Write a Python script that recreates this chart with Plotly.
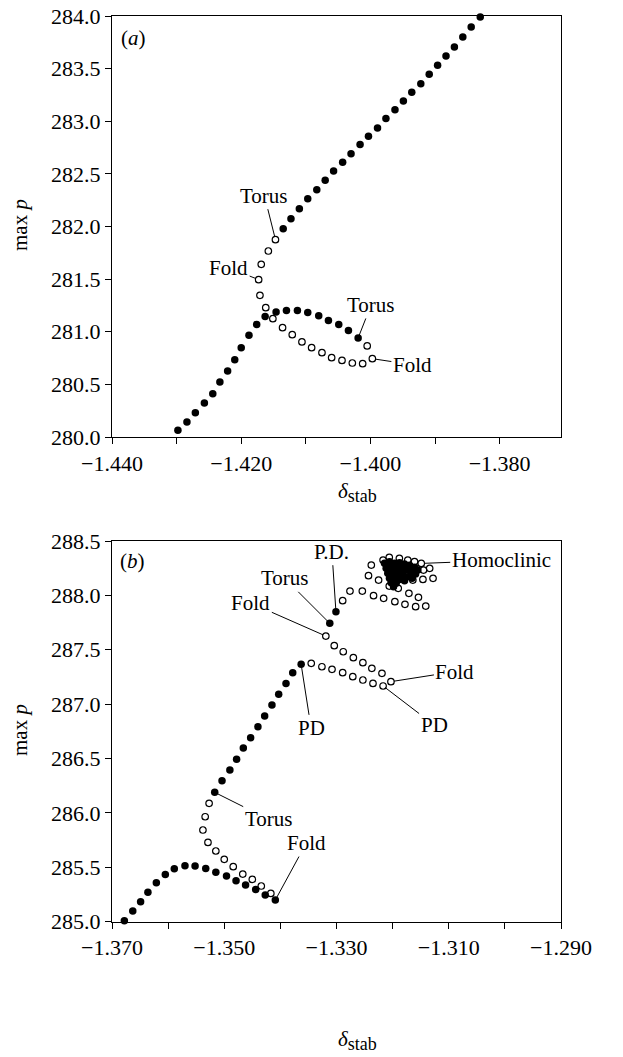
import plotly.graph_objects as go

# ---------------- Panel (a) data ----------------
a_stable_x = [-1.4298, -1.4284, -1.4271, -1.4257, -1.4244, -1.4233, -1.4221, -1.4210, -1.4200, -1.4188,
              -1.4176, -1.4163, -1.4146, -1.4130, -1.4113, -1.4097, -1.4080, -1.4065, -1.4049, -1.4034,
              -1.4019,
              -1.4135, -1.4123, -1.4110, -1.4097, -1.4083, -1.4070, -1.4057, -1.4043, -1.4030, -1.4016,
              -1.4003, -1.3989, -1.3976, -1.3962, -1.3949, -1.3936, -1.3922, -1.3909, -1.3896, -1.3883,
              -1.3870, -1.3857, -1.3844, -1.3830]
a_stable_y = [280.063, 280.143, 280.231, 280.323, 280.412, 280.523, 280.627, 280.735, 280.849, 280.966,
              281.070, 281.146, 281.188, 281.203, 281.203, 281.184, 281.153, 281.108, 281.070, 281.013,
              280.941,
              281.979, 282.074, 282.169, 282.264, 282.350, 282.439, 282.527, 282.610, 282.692, 282.778,
              282.857, 282.936, 283.025, 283.110, 283.192, 283.275, 283.357, 283.446, 283.531, 283.620,
              283.706, 283.800, 283.896, 283.991]
a_unstable_x = [-1.4005, -1.3997, -1.4012, -1.4028, -1.4044, -1.4060, -1.4075, -1.4091, -1.4106, -1.4121,
                -1.4136, -1.4151, -1.4162, -1.4171, -1.4173, -1.4169, -1.4158, -1.4147]
a_unstable_y = [280.865, 280.744, 280.697, 280.703, 280.728, 280.754, 280.801, 280.849, 280.903, 280.972,
                281.039, 281.124, 281.229, 281.346, 281.495, 281.641, 281.767, 281.875]

a_xticks = [-1.44, -1.42, -1.40, -1.38]
a_xticktext = ["−1.440", "−1.420", "−1.400", "−1.380"]
a_xminor = [-1.43, -1.41, -1.39, -1.37]
a_yticks = [280.0, 280.5, 281.0, 281.5, 282.0, 282.5, 283.0, 283.5, 284.0]

# annotations for (a): label, x, y, ax, ay
a_labels = ["Torus", "Fold", "Torus", "Fold"]
a_lab_x = [-1.4147, -1.4173, -1.4019, -1.3997]
a_lab_y = [281.875, 281.495, 280.941, 280.744]
a_lab_ax = [-11, -30, 13, 40]
a_lab_ay = [-44, -12, -33, 6]

# ---------------- Panel (b) data ----------------
b_stable_x = [-1.3678, -1.3663, -1.3649, -1.3636, -1.3621, -1.3605, -1.3589, -1.3570, -1.3552, -1.3533,
              -1.3515, -1.3496, -1.3479, -1.3462, -1.3444, -1.3427, -1.3409,
              -1.3517, -1.3504, -1.3490, -1.3478, -1.3466, -1.3453, -1.3440, -1.3428, -1.3415, -1.3403,
              -1.3390, -1.3378, -1.3363,
              -1.3312, -1.3301]
b_stable_y = [285.009, 285.098, 285.184, 285.270, 285.359, 285.435, 285.487, 285.515, 285.512, 285.490,
              285.454, 285.420, 285.377, 285.337, 285.297, 285.245, 285.199,
              286.189, 286.296, 286.394, 286.493, 286.597, 286.692, 286.793, 286.891, 286.992, 287.090,
              287.191, 287.289, 287.366,
              287.743, 287.850]
b_unstable_x = [-1.3417, -1.3434, -1.3450, -1.3467, -1.3484, -1.3500, -1.3515, -1.3529, -1.3538, -1.3534,
                -1.3527,
                -1.3345, -1.3326, -1.3308, -1.3289, -1.3271, -1.3253, -1.3235, -1.3217, -1.3203, -1.3219,
                -1.3237, -1.3253, -1.3270, -1.3288, -1.3304, -1.3319,
                -1.3289, -1.3276, -1.3254, -1.3234, -1.3216, -1.3196, -1.3178, -1.3159, -1.3141, -1.3154,
                -1.3171, -1.3190, -1.3206,
                -1.3243, -1.3225, -1.3238, -1.3217, -1.3206, -1.3188, -1.3173, -1.3161, -1.3149, -1.3134,
                -1.3145, -1.3128, -1.3146, -1.3164]
b_unstable_y = [285.260, 285.328, 285.389, 285.438, 285.506, 285.573, 285.650, 285.729, 285.843, 285.965,
                286.088,
                287.375, 287.344, 287.320, 287.289, 287.253, 287.222, 287.191, 287.167, 287.207, 287.283,
                287.329, 287.381, 287.427, 287.482, 287.538, 287.626,
                287.951, 288.040, 288.040, 287.997, 287.973, 287.942, 287.918, 287.896, 287.902, 287.982,
                288.019, 288.065, 288.086,
                288.181, 288.141, 288.279, 288.325, 288.350, 288.341, 288.325, 288.310, 288.294, 288.249,
                288.233, 288.157, 288.147, 288.141]
b_homoc_x = [-1.32145, -1.32056, -1.31967, -1.31877, -1.31788, -1.31698, -1.31609, -1.31550,
             -1.32115, -1.32026, -1.31937, -1.31847, -1.31758, -1.31669, -1.31591,
             -1.32086, -1.31996, -1.31907, -1.31818, -1.31728, -1.31651,
             -1.32056, -1.31967, -1.31877, -1.31788,
             -1.32026, -1.31937, -1.31984,
             -1.32086, -1.31996, -1.31925, -1.31829, -1.31746, -1.31639, -1.32008]
b_homoc_y = [288.295, 288.310, 288.295, 288.301, 288.288, 288.276, 288.258, 288.233,
             288.249, 288.258, 288.249, 288.245, 288.233, 288.218, 288.196,
             288.203, 288.209, 288.196, 288.187, 288.172, 288.157,
             288.157, 288.157, 288.147, 288.135,
             288.117, 288.111, 288.080,
             288.279, 288.233, 288.178, 288.218, 288.258, 288.233, 288.178]

b_xticks = [-1.37, -1.35, -1.33, -1.31, -1.29]
b_xticktext = ["−1.370", "−1.350", "−1.330", "−1.310", "−1.290"]
b_xminor = [-1.36, -1.34, -1.32, -1.30]
b_yticks = [285.0, 285.5, 286.0, 286.5, 287.0, 287.5, 288.0, 288.5]

b_labels = ["P.D.", "Torus", "Fold", "Fold", "PD", "PD", "Torus", "Fold", "Homoclinic"]
b_lab_x = [-1.3301, -1.3312, -1.3319, -1.3203, -1.3217, -1.3363, -1.3517, -1.3409, -1.3149]
b_lab_y = [287.850, 287.743, 287.626, 287.207, 287.167, 287.366, 286.189, 285.199, 288.294]
b_lab_ax = [-4, -45, -75, 64, 51, 10, 54, 31, 80]
b_lab_ay = [-60, -45, -33, -10, 39, 64, 27, -57, -3]

# ---------------- Figure ----------------
W, H = 623, 1057
FONT = "Liberation Serif"
FS = 21
TFS = 22
fig = go.Figure()

filled = dict(symbol="circle", size=7.5, color="black")
opened = dict(symbol="circle-open", size=6.5, color="black", line=dict(width=1.2, color="black"))

fig.add_trace(go.Scatter(x=a_stable_x, y=a_stable_y, mode="markers", marker=filled,
                         xaxis="x", yaxis="y", cliponaxis=False, showlegend=False))
fig.add_trace(go.Scatter(x=a_unstable_x, y=a_unstable_y, mode="markers", marker=opened,
                         xaxis="x", yaxis="y", cliponaxis=False, showlegend=False))
fig.add_trace(go.Scatter(x=b_stable_x, y=b_stable_y, mode="markers", marker=filled,
                         xaxis="x2", yaxis="y2", cliponaxis=False, showlegend=False))
fig.add_trace(go.Scatter(x=b_unstable_x, y=b_unstable_y, mode="markers", marker=opened,
                         xaxis="x2", yaxis="y2", cliponaxis=False, showlegend=False))
fig.add_trace(go.Scatter(x=b_homoc_x, y=b_homoc_y, mode="markers", marker=filled,
                         xaxis="x2", yaxis="y2", cliponaxis=False, showlegend=False))

xdom = [112 / W, 561 / W]
ydom_a = [1 - 437 / H, 1 - 16 / H]
ydom_b = [1 - 921.7 / H, 1 - 541 / H]

axis_common = dict(showline=True, linecolor="black", linewidth=1.3, mirror=True,
                   ticks="outside", ticklen=6, tickwidth=1, tickcolor="black",
                   showgrid=False, zeroline=False, automargin=False,
                   tickfont=dict(family=FONT, size=TFS, color="black"))
minor_common = dict(ticks="outside", ticklen=6, tickwidth=1, tickcolor="black", showgrid=False)

fig.update_layout(
    width=W, height=H, margin=dict(l=0, r=0, t=0, b=0, pad=0),
    paper_bgcolor="white", plot_bgcolor="white",
    font=dict(family=FONT, size=FS, color="black"),
    xaxis=dict(domain=xdom, anchor="y", range=[-1.44, -1.3705], tickmode="array",
               tickvals=a_xticks, ticktext=a_xticktext,
               minor=dict(tickmode="array", tickvals=a_xminor, **minor_common), **axis_common),
    yaxis=dict(domain=ydom_a, anchor="x", range=[280, 284], tickmode="array",
               tickvals=a_yticks, tickformat=".1f", **axis_common),
    xaxis2=dict(domain=xdom, anchor="y2", range=[-1.37, -1.29], tickmode="array",
                tickvals=b_xticks, ticktext=b_xticktext,
                minor=dict(tickmode="array", tickvals=b_xminor, **minor_common), **axis_common),
    yaxis2=dict(domain=ydom_b, anchor="x2", range=[285, 288.5], tickmode="array",
                tickvals=b_yticks, tickformat=".1f", **axis_common),
)

ann = []
for t, x, y, ax, ay in zip(a_labels, a_lab_x, a_lab_y, a_lab_ax, a_lab_ay):
    ann.append(dict(text=t, x=x, y=y, xref="x", yref="y", ax=ax, ay=ay, showarrow=True,
                    arrowhead=0, arrowwidth=1, arrowcolor="black", standoff=3,
                    font=dict(family=FONT, size=FS, color="black")))
for t, x, y, ax, ay in zip(b_labels, b_lab_x, b_lab_y, b_lab_ax, b_lab_ay):
    ann.append(dict(text=t, x=x, y=y, xref="x2", yref="y2", ax=ax, ay=ay, showarrow=True,
                    arrowhead=0, arrowwidth=1, arrowcolor="black", standoff=3,
                    font=dict(family=FONT, size=FS, color="black")))

def paper_text(text, xp, yp, angle=0):
    return dict(text=text, x=xp / W, y=1 - yp / H, xref="paper", yref="paper",
                xanchor="center", yanchor="middle", showarrow=False, textangle=angle,
                font=dict(family=FONT, size=FS, color="black"))

# panel labels
ann.append(paper_text("(<i>a</i>)", 133, 38))
ann.append(paper_text("(<i>b</i>)", 132, 561))
# axis titles
for yc in [225, 730]:
    ann.append(paper_text("max <i>p</i>", 20, yc, -90))
for yc in [492, 1040]:
    ann.append(paper_text('<i>δ</i><sub><span style="font-size:18px">stab</span></sub>', 357, yc))

fig.update_layout(annotations=ann)
fig.write_html("out.html")
